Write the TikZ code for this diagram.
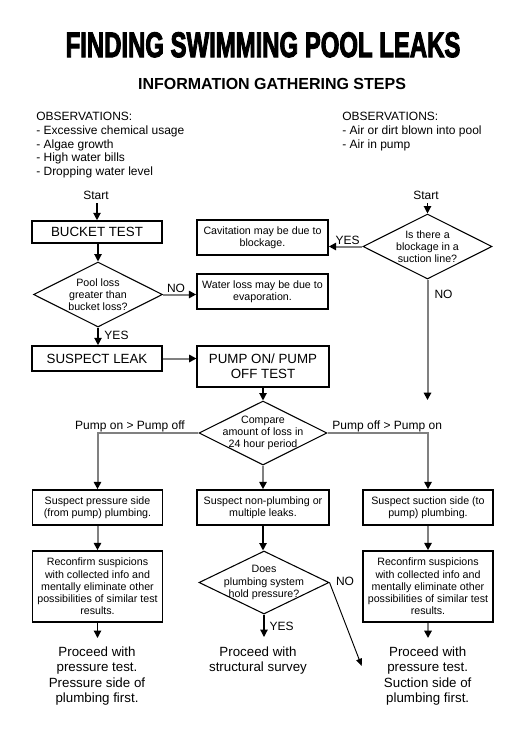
\documentclass[tikz,border=0pt]{standalone}
\usepackage{fontspec}
\usepackage{graphicx}
\setmainfont{Liberation Sans}
\newfontfamily\titlefont{Liberation Sans}[BoldFeatures={FakeBold=3.5}]
\usetikzlibrary{shapes.geometric,arrows.meta}
\begin{document}
\begin{tikzpicture}[x=0.75pt,y=-0.75pt,
  box/.style={draw, line width=1.2pt, rectangle, inner sep=0pt, align=center, font=\fontsize{8pt}{9.2pt}\selectfont},
  bigbox/.style={box, font=\fontsize{10pt}{11.25pt}\selectfont},
  dia/.style={draw, line width=0.8pt, diamond, inner sep=0pt},
  dtext/.style={align=center, inner sep=0pt, font=\fontsize{8pt}{9.2pt}\selectfont},
  lbl/.style={inner sep=0pt, font=\fontsize{9pt}{11pt}\selectfont},
  obs/.style={anchor=base west, inner sep=0pt, font=\fontsize{9pt}{11pt}\selectfont},
  fin/.style={anchor=north, inner sep=0pt, align=center, font=\fontsize{10pt}{11.5pt}\selectfont},
  arr/.style={draw=black, line width=0.9pt, -{Triangle[length=5.5pt,width=5.5pt]}},
  garr/.style={draw=black!50, line width=1.5pt, -{Triangle[length=5.5pt,width=5.5pt,color=black]}},
  thinarr/.style={draw=black, line width=0.7pt, -{Triangle[length=5.5pt,width=4.5pt]}}
]
\fill[white] (0,0) rectangle (518,751);
\useasboundingbox (0,0) rectangle (518,751);

% titles
\node[inner sep=0pt, anchor=base] (title) at (263,57) {\resizebox{296pt}{18.5pt}{\titlefont\bfseries FINDING SWIMMING POOL LEAKS}};
\node[inner sep=0pt, anchor=base, font=\fontsize{12pt}{14pt}\selectfont\bfseries] (sub) at (272,89) {INFORMATION GATHERING STEPS};

% observations
\node[obs] (ol1) at (36,120.7) {OBSERVATIONS:};
\node[obs] (ol2) at (36,134.4) {- Excessive chemical usage};
\node[obs] (ol3) at (36,148.1) {- Algae growth};
\node[obs] (ol4) at (36,161.8) {- High water bills};
\node[obs] (ol5) at (36,175.5) {- Dropping water level};
\node[obs] (or1) at (342,120.7) {OBSERVATIONS:};
\node[obs] (or2) at (342,134.4) {- Air or dirt blown into pool};
\node[obs] (or3) at (342,148.1) {- Air in pump};

% left column
\node[lbl, anchor=base] (s1) at (96,199.3) {Start};
\coordinate (s1a) at (97,203);
\node[bigbox, minimum width=97.5pt, minimum height=16.5pt] (bucket) at (97,232) {BUCKET TEST};
\node[dia, minimum width=96.75pt, minimum height=48.75pt] (d1) at (98,294.5) {};
\node[dtext] (d1t) at (98,294.5) {Pool loss\\greater than\\bucket loss?};
\node[box, minimum width=98.25pt, minimum height=26.25pt] (water) at (262.5,291.5) {Water loss may be due to\\evaporation.};
\node[box, minimum width=98.25pt, minimum height=26.25pt] (cav) at (262.5,237.5) {Cavitation may be due to\\blockage.};
\node[bigbox, minimum width=97.5pt, minimum height=18.75pt] (leak) at (97,358.5) {SUSPECT LEAK};
\node[bigbox, minimum width=98.6pt, minimum height=30.75pt] (pump) at (263,366.5) {PUMP ON/ PUMP\\OFF TEST};

% right top
\node[lbl, anchor=base] (s2) at (426,199.3) {Start};
\coordinate (s2a) at (427.5,203);
\node[dia, minimum width=96.75pt, minimum height=48.75pt] (d4) at (427.5,246.5) {};
\node[dtext] (d4t) at (427.5,246.5) {Is there a\\blockage in a\\suction line?};
\coordinate (d4end) at (427.5,400);

% compare
\node[dia, minimum width=96pt, minimum height=48pt] (d2) at (263,433) {};
\node[dtext] (d2t) at (263,433) {Compare\\amount of loss in\\24 hour period};
\coordinate (cl) at (97.5,433);
\coordinate (cr) at (428,433);

% third row
\node[box, minimum width=97.5pt, minimum height=26.25pt] (pres) at (97.5,507.5) {Suspect pressure side\\(from pump) plumbing.};
\node[box, minimum width=98.6pt, minimum height=26.25pt] (nonp) at (263,507.5) {Suspect non-plumbing or\\multiple leaks.};
\node[box, minimum width=97.5pt, minimum height=26.25pt] (suc) at (428,507.5) {Suspect suction side (to\\pump) plumbing.};

% fourth row
\node[box, minimum width=97.5pt, minimum height=53.25pt] (recl) at (97.5,586.5) {Reconfirm suspicions\\with collected info and\\mentally eliminate other\\possibilities of similar test\\results.};
\node[box, minimum width=97.5pt, minimum height=53.25pt] (recr) at (428,586.5) {Reconfirm suspicions\\with collected info and\\mentally eliminate other\\possibilities of similar test\\results.};
\node[dia, minimum width=97.5pt, minimum height=47.25pt] (d3) at (264,582.5) {};
\node[dtext] (d3t) at (264,582.5) {Does\\plumbing system\\hold pressure?};

% final texts
\coordinate (el) at (97.5,638);
\coordinate (em) at (263,637);
\coordinate (er) at (428,638);
\coordinate (eno) at (361.7,666);
\node[fin] (finl) at (97,646.5) {Proceed with\\pressure test.\\Pressure side of\\plumbing first.};
\node[fin] (finm) at (258,646.5) {Proceed with\\structural survey};
\node[fin] (finr) at (427.7,646.5) {Proceed with\\pressure test.\\Suction side of\\plumbing first.};

% labels
\node[lbl] (lno1) at (176,288) {NO};
\node[lbl] (lyes1) at (116.5,335.7) {YES};
\node[lbl] (lyes4) at (347.7,240) {YES};
\node[lbl] (lno4) at (443.5,294) {NO};
\node[lbl] (lon) at (130,426) {Pump on > Pump off};
\node[lbl] (loff) at (387.2,426) {Pump off > Pump on};
\node[lbl] (lno3) at (345,581.7) {NO};
\node[lbl] (lyes3) at (281.7,626.7) {YES};

% connectors
\draw[arr] (s1a) -- (s1a |- bucket.north);
\draw[arr] (bucket.south -| d1.north) -- (d1.north);
\draw[garr] (d1.east) -- (d1.east -| water.west);
\draw[arr] (d1.south) -- (d1.south |- leak.north);
\draw[garr] (leak.east) -- (leak.east -| pump.west);
\draw[arr] (pump.south) -- (d2.north);
\draw[arr] (s2a) -- (d4.north);
\draw[garr] (d4.west) -- (d4.west -| cav.east);
\draw[garr] (d4.south) -- (d4end);
\draw[garr] (d2.west) -- (cl) -- (pres.north);
\draw[garr] (d2.east) -- (cr) -- (suc.north);
\draw[garr] (d2.south) -- (nonp.north);
\draw[arr] (nonp.south) -- (nonp.south |- d3.north);
\draw[garr] (pres.south) -- (recl.north);
\draw[garr] (suc.south) -- (recr.north);
\draw[arr] (recl.south) -- (el);
\draw[garr] (recr.south) -- (er);
\draw[arr] (d3.south) -- (d3.south |- em);
\draw[thinarr] (d3.east) -- (eno);
\end{tikzpicture}
\end{document}
